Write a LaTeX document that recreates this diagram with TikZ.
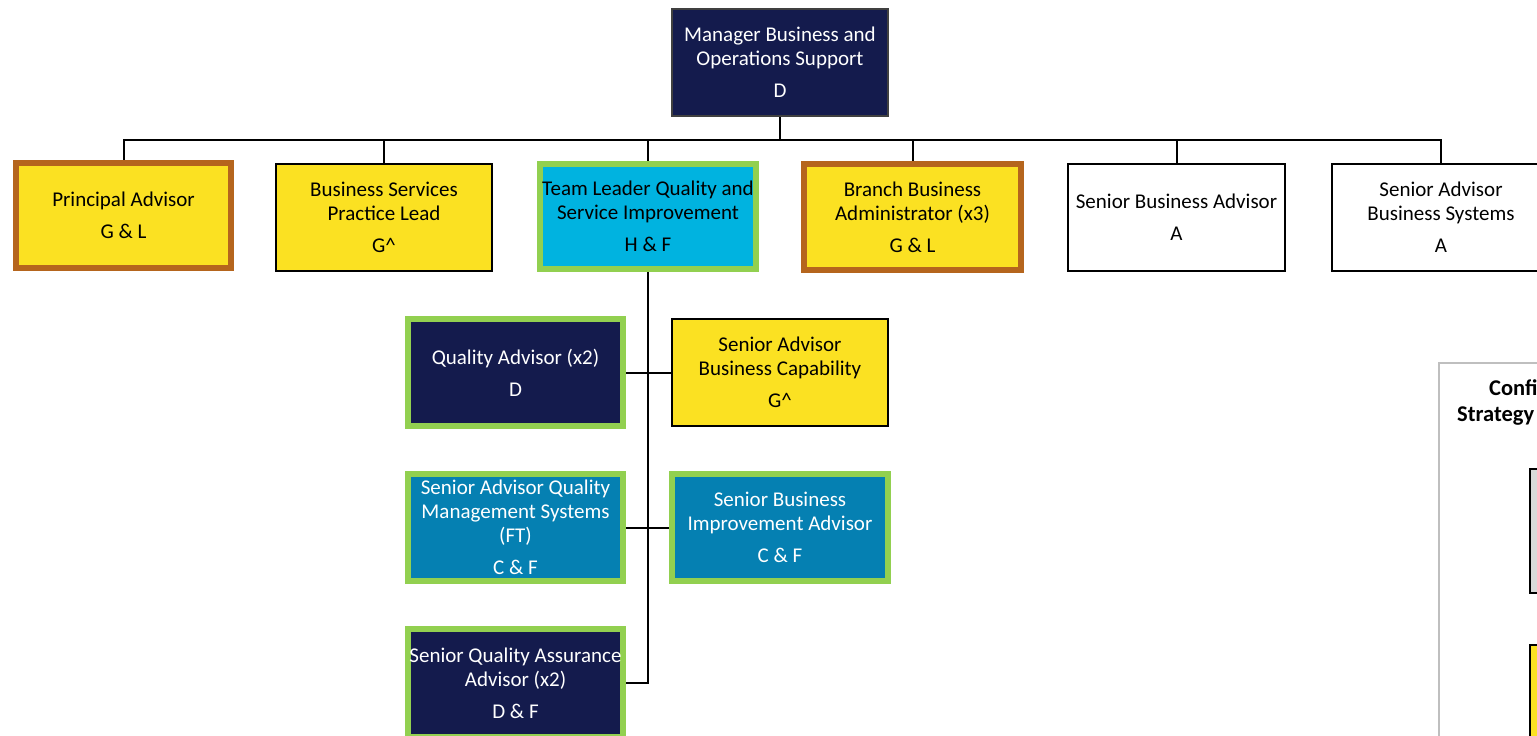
\documentclass[tikz,border=0pt]{standalone}
\usepackage{fontspec}
\setmainfont{Carlito}
\definecolor{navy}{HTML}{141B4D}
\definecolor{gold}{HTML}{FBE122}
\definecolor{rust}{HTML}{B5651D}
\definecolor{leaf}{HTML}{92D050}
\definecolor{sky}{HTML}{00B3E0}
\definecolor{teal}{HTML}{0580B2}
\definecolor{panelgray}{HTML}{BFBFBF}
\definecolor{legendgray}{HTML}{D9D9D9}
\begin{document}
\begin{tikzpicture}[x=1pt,y=-1pt,
  role/.style={rectangle, align=center, inner sep=0pt,
    font=\fontsize{21}{24}\selectfont, minimum width=216pt, minimum height=107pt},
  plain/.style={role, draw=black, line width=2pt, fill=white, text=black},
  yellowbox/.style={role, draw=black, line width=2pt, fill=gold, text=black},
  brownbox/.style={role, draw=rust, line width=6pt, fill=gold, text=black},
  navybox/.style={role, draw=leaf, line width=6pt, fill=navy, text=white},
  cyanbox/.style={role, draw=leaf, line width=6pt, fill=sky, text=black},
  tealbox/.style={role, draw=leaf, line width=6pt, fill=teal, text=white},
  legendtext/.style={anchor=west, inner sep=0pt, font=\fontsize{22.5}{26}\selectfont\bfseries},
  link/.style={draw=black, line width=2pt}]
\useasboundingbox (0,0) rectangle (1537,736);

% head of the unit
\node[role, draw=black!75, line width=2pt, fill=navy, text=white] (mgr) at (780,62.5)
  {Manager Business and\\Operations Support\\[8pt]D};

% direct reports
\node[brownbox, minimum width=215pt, minimum height=105pt] (pa) at (123.5,215.5)
  {Principal Advisor\\[8pt]G \& L};
\node[yellowbox] (bs) at (384,217.5)
  {Business Services\\Practice Lead\\[8pt]G\^{}};
\node[cyanbox, minimum height=105pt] (tl) at (648,216.5)
  {Team Leader Quality and\\Service Improvement\\[8pt]H \& F};
\node[brownbox, minimum width=217pt, minimum height=106pt] (bba) at (912.5,217)
  {Branch Business\\Administrator (x3)\\[8pt]G \& L};
\node[plain, minimum width=217pt] (sba) at (1176.5,217.5)
  {Senior Business Advisor\\[8pt]A};
\node[plain, minimum width=218pt] (sabs) at (1441,217.5)
  {Senior Advisor\\Business Systems\\[8pt]A};

% team under the team leader
\node[navybox, minimum width=215pt] (qa) at (515.5,372.5)
  {Quality Advisor (x2)\\[8pt]D};
\node[yellowbox] (sabc) at (780,372.5)
  {Senior Advisor\\Business Capability\\[8pt]G\^{}};
\node[tealbox, minimum width=215pt] (saqms) at (515.5,527.5)
  {Senior Advisor Quality\\Management Systems\\(FT)\\[8pt]C \& F};
\node[tealbox] (sbia) at (780,527.5)
  {Senior Business\\Improvement Advisor\\[8pt]C \& F};
\node[navybox, minimum width=215pt, minimum height=108pt] (sqaa) at (515.5,683)
  {Senior Quality Assurance\\Advisor (x2)\\[8pt]D \& F};

% reporting lines
\coordinate (bus) at (780,139.5);
\foreach \c in {pa,bs,tl,bba,sba,sabs}
  \draw[link] (mgr.south) -- (bus) -| (\c.north);
\draw[link] (qa.east) -- (sabc.west);
\draw[link] (saqms.east) -- (sbia.west);
\draw[link] (tl.south) |- (sqaa.east);

% legend panel at the right edge
\node[draw=panelgray, line width=2pt, minimum width=200pt, minimum height=420pt,
  anchor=north west, inner sep=0pt] (legend) at (1438,362) {};
\node[legendtext] (lt1) at (1489,388) {Confi};
\node[legendtext] (lt2) at (1457,416) {Strategy};
\node[draw=black, line width=2pt, fill=legendgray, anchor=north west, inner sep=0pt,
  minimum width=60pt, minimum height=124pt] (lg1) at (1529,468) {};
\node[draw=black, line width=2pt, fill=gold, anchor=north west, inner sep=0pt,
  minimum width=60pt, minimum height=124pt] (lg2) at (1529,644) {};
\end{tikzpicture}
\end{document}
